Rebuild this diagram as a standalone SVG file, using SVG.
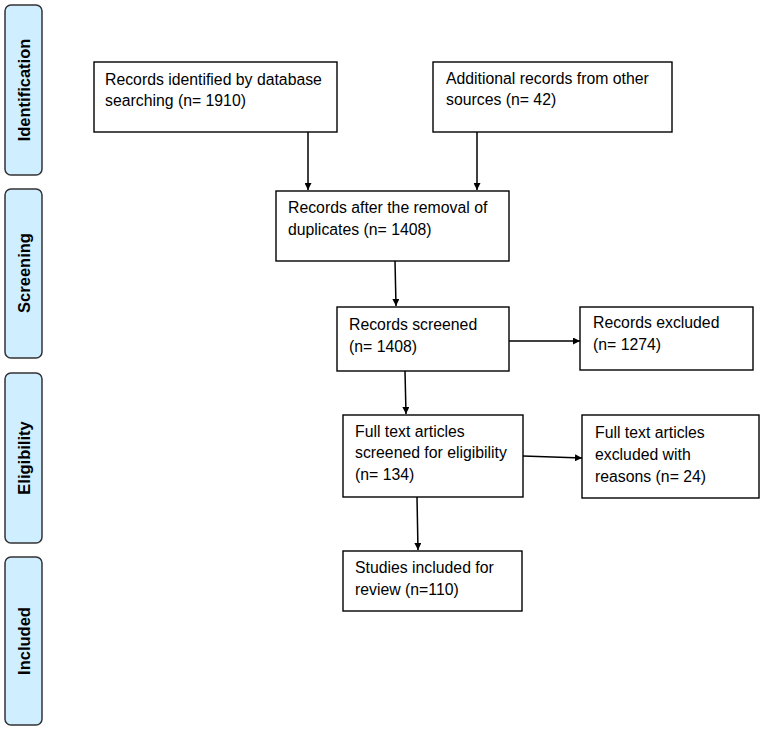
<svg xmlns="http://www.w3.org/2000/svg" width="765" height="732" viewBox="0 0 765 732">
<style>
.side{fill:#cfeeff;stroke:#333;stroke-width:1.5}
.box{fill:#fff;stroke:#000;stroke-width:1.4}
.t{font-family:"Liberation Sans",Arial,sans-serif;font-size:15.8px;fill:#000}
.s{font-family:"Liberation Sans",Arial,sans-serif;font-size:16.5px;font-weight:bold;fill:#000;text-anchor:middle}
.c{stroke:#000;stroke-width:1.5;fill:none;marker-end:url(#ah)}
</style>
<defs>
<marker id="ah" viewBox="0 0 10 10" refX="10" refY="5" markerWidth="7" markerHeight="7" markerUnits="userSpaceOnUse" orient="auto">
<path d="M0,0 L10,5 L0,10 z" fill="#000"/>
</marker>
</defs>
<rect width="765" height="732" fill="#fff"/>
<g id="stage-identification"><rect class="side" x="5" y="5" width="37" height="170" rx="6"/><text class="s" transform="translate(30,90) rotate(-90)">Identification</text></g>
<g id="stage-screening"><rect class="side" x="5" y="189" width="37" height="169" rx="6"/><text class="s" transform="translate(30,273) rotate(-90)">Screening</text></g>
<g id="stage-eligibility"><rect class="side" x="5" y="373" width="37" height="170" rx="6"/><text class="s" transform="translate(30,458) rotate(-90)">Eligibility</text></g>
<g id="stage-included"><rect class="side" x="5" y="557" width="37" height="168" rx="6"/><text class="s" transform="translate(30,641) rotate(-90)">Included</text></g>

<g id="n1"><rect class="box" x="94" y="62" width="243" height="70"/><text class="t" x="105" y="85">Records identified by database</text><text class="t" x="105" y="106">searching (n= 1910)</text></g>
<g id="n2"><rect class="box" x="433" y="62" width="239" height="70"/><text class="t" x="446" y="84">Additional records from other</text><text class="t" x="446" y="105">sources (n= 42)</text></g>
<g id="n3"><rect class="box" x="276" y="191" width="233" height="70"/><text class="t" x="288" y="213">Records after the removal of</text><text class="t" x="288" y="235">duplicates (n= 1408)</text></g>
<g id="n4"><rect class="box" x="337" y="307" width="172" height="64"/><text class="t" x="349" y="330">Records screened</text><text class="t" x="349" y="352">(n= 1408)</text></g>
<g id="n5"><rect class="box" x="580" y="307" width="173" height="63"/><text class="t" x="593" y="328">Records excluded</text><text class="t" x="593" y="350">(n= 1274)</text></g>
<g id="n6"><rect class="box" x="343" y="415" width="180" height="82"/><text class="t" x="355" y="437">Full text articles</text><text class="t" x="355" y="458">screened for eligibility</text><text class="t" x="355" y="480">(n= 134)</text></g>
<g id="n7"><rect class="box" x="582" y="415" width="177" height="83"/><text class="t" x="595" y="438">Full text articles</text><text class="t" x="595" y="460">excluded with</text><text class="t" x="595" y="482">reasons (n= 24)</text></g>
<g id="n8"><rect class="box" x="343" y="551" width="179" height="60"/><text class="t" x="355" y="573">Studies included for</text><text class="t" x="355" y="595">review (n=110)</text></g>

<g id="connectors">
<line class="c" x1="308" y1="132" x2="308" y2="190"/>
<line class="c" x1="477" y1="132" x2="477" y2="190"/>
<line class="c" x1="395" y1="261" x2="396" y2="306"/>
<line class="c" x1="509" y1="341" x2="580" y2="341"/>
<line class="c" x1="405" y1="371" x2="406" y2="414"/>
<line class="c" x1="523" y1="456" x2="582" y2="458"/>
<line class="c" x1="417" y1="497" x2="418" y2="550"/>
</g>
</svg>
